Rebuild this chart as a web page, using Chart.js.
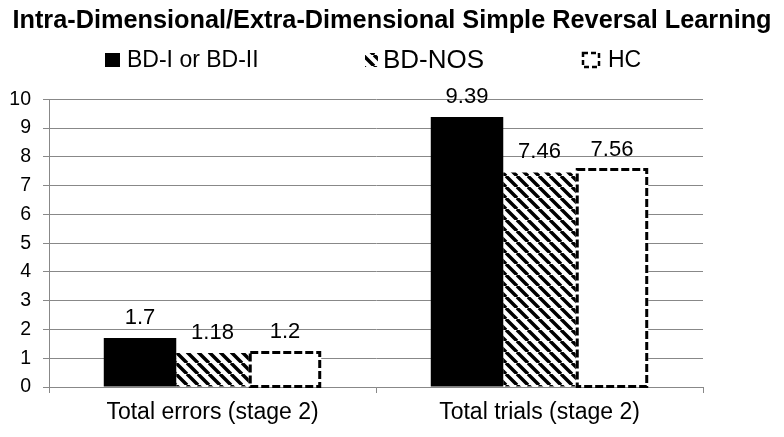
<!DOCTYPE html>
<html>
<head>
<meta charset="utf-8">
<script src="https://cdn.jsdelivr.net/npm/chart.js@4"></script>
<style>
  html, body { margin: 0; padding: 0; background: #fff; }
  #wrap { width: 784px; height: 437px; }
</style>
</head>
<body>
<div id="wrap"><canvas id="chart"></canvas></div>
<script>
const categories = ["Total errors (stage 2)", "Total trials (stage 2)"];
const seriesNames = ["BD-I or BD-II", "BD-NOS", "HC"];
const bdValues = [1.7, 9.39];
const nosValues = [1.18, 7.46];
const hcValues = [1.2, 7.56];
const yTicks = [0, 1, 2, 3, 4, 5, 6, 7, 8, 9, 10];

const FONT = "'Liberation Sans', Arial, sans-serif";

// diagonal hatch, lines running top-left -> bottom-right
function makeHatch() {
  const s = 11;
  const c = document.createElement("canvas");
  c.width = s;
  c.height = s;
  const g = c.getContext("2d");
  g.fillStyle = "#fff";
  g.fillRect(0, 0, s, s);
  g.strokeStyle = "#000";
  g.lineWidth = 3.5;
  g.beginPath();
  for (const k of [-s, 0, s]) {
    g.moveTo(k, 0);
    g.lineTo(k + s, s);
  }
  g.stroke();
  return g.createPattern(c, "repeat");
}
const hatch = makeHatch();

// value labels + dashed outline for HC bars
const barExtras = {
  id: "barExtras",
  afterDatasetsDraw(chart) {
    const ctx = chart.ctx;
    ctx.save();
    const hcMeta = chart.getDatasetMeta(2);
    ctx.strokeStyle = "#000";
    ctx.lineWidth = 3;
    ctx.setLineDash([8, 3]);
    hcMeta.data.forEach((bar) => {
      const l = bar.x - bar.width / 2;
      ctx.strokeRect(l + 1.5, bar.y, bar.width - 3, bar.base - bar.y);
    });
    ctx.setLineDash([]);
    ctx.fillStyle = "#000";
    ctx.font = "22px " + FONT;
    ctx.textAlign = "center";
    ctx.textBaseline = "alphabetic";
    chart.data.datasets.forEach((ds, i) => {
      chart.getDatasetMeta(i).data.forEach((bar, j) => {
        ctx.fillText(String(ds.data[j]), bar.x, bar.y - 14);
      });
    });
    ctx.restore();
  },
};

// legend row drawn by hand so the uneven spacing of the original can be kept
const legendRow = {
  id: "legendRow",
  afterDraw(chart) {
    const ctx = chart.ctx;
    const cy = 60;
    const items = [
      { box: 105, w: 15, text: 127, size: 23 },
      { box: 365, w: 13, text: 383, size: 26 },
      { box: 583, w: 16, text: 608, size: 23 },
    ];
    ctx.save();
    items.forEach((it, i) => {
      const top = cy - 7;
      if (i === 0) {
        ctx.fillStyle = "#000";
        ctx.fillRect(it.box, top, it.w, 14);
      } else if (i === 1) {
        ctx.fillStyle = hatch;
        ctx.fillRect(it.box, top, it.w, 14);
      } else {
        ctx.strokeStyle = "#000";
        ctx.lineWidth = 2.5;
        ctx.setLineDash([5, 3]);
        ctx.strokeRect(it.box, top, it.w, 14);
        ctx.setLineDash([]);
      }
      ctx.fillStyle = "#000";
      ctx.font = it.size + "px " + FONT;
      ctx.textAlign = "left";
      ctx.textBaseline = "middle";
      ctx.fillText(seriesNames[i], it.text, cy + 1);
    });
    ctx.restore();
  },
};

new Chart(document.getElementById("chart"), {
  type: "bar",
  data: {
    labels: categories,
    datasets: [
      { label: seriesNames[0], data: bdValues, backgroundColor: "#000" },
      { label: seriesNames[1], data: nosValues, backgroundColor: hatch },
      { label: seriesNames[2], data: hcValues, backgroundColor: "#fff" },
    ],
  },
  options: {
    responsive: true,
    maintainAspectRatio: false,
    animation: false,
    events: [],
    datasets: {
      bar: { categoryPercentage: 0.665, barPercentage: 1, borderWidth: 0 },
    },
    layout: { padding: 0 },
    plugins: {
      tooltip: { enabled: false },
      legend: { display: false },
      title: {
        display: true,
        text: "Intra-Dimensional/Extra-Dimensional Simple Reversal Learning",
        color: "#000",
        font: { family: FONT, size: 25.3, weight: "bold", lineHeight: 1.2 },
        padding: { top: 6, bottom: 63 },
      },
    },
    scales: {
      x: {
        offset: true,
        grid: { display: true, drawOnChartArea: false, drawTicks: true, tickLength: 6, color: "#888", offset: true },
        border: { color: "#888", width: 1 },
        ticks: { color: "#000", font: { family: FONT, size: 23 }, padding: 6 },
        afterFit: (scale) => { scale.height = 50; },
      },
      y: {
        min: 0,
        max: 10,
        afterBuildTicks: (scale) => { scale.ticks = yTicks.map((v) => ({ value: v })); },
        grid: { color: "#888", lineWidth: 1, tickLength: 6 },
        border: { color: "#888", width: 1 },
        ticks: { color: "#000", font: { family: FONT, size: 19.5 }, padding: 12, autoSkip: false },
        afterFit: (scale) => { scale.width = 49; },
      },
      // empty right-hand axis, only reserves the blank margin right of the plot
      yRight: {
        position: "right",
        min: 0,
        max: 10,
        grid: { display: false, drawTicks: false },
        border: { display: false },
        ticks: { display: false },
        afterFit: (scale) => { scale.width = 81; },
      },
    },
  },
  plugins: [barExtras, legendRow],
});
</script>
</body>
</html>
